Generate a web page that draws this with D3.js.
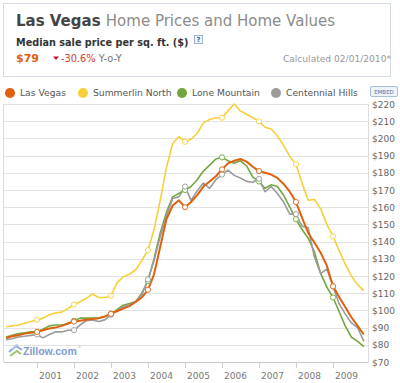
<!DOCTYPE html>
<meta charset="utf-8">
<html>
<head><title>Las Vegas Home Prices and Home Values</title></head>
<style>
body { margin: 0; background: #fff; }
svg text { font-family: "DejaVu Sans", sans-serif; }
</style>
<body>
<svg id="chart" width="400" height="383"></svg>
<script src="https://d3js.org/d3.v7.min.js"></script>
<script>

// tick labels
var yearLabels = ["2001", "2002", "2003", "2004", "2005", "2006", "2007", "2008", "2009"];
var priceTicks = [70, 80, 90, 100, 110, 120, 130, 140, 150, 160, 170, 180, 190, 200, 210, 220];

// one sample every two months, Feb 2000 .. Dec 2009
var months = d3.timeMonth.every(2).range(new Date(2000, 1, 1), new Date(2010, 0, 1));

var seriesNames = ["Las Vegas", "Summerlin North", "Lone Mountain", "Centennial Hills"];
var seriesColors = ["#e0600f", "#f6cf3a", "#73a640", "#9b9b9b"];

// median sale price per sq. ft. ($)
var lasVegas = [84, 85, 85.5, 86.5, 87, 87.5, 88.5, 89.5, 90, 91,
  92.5, 93.5, 94, 94.5, 95, 95.5, 96.5, 98, 99.5, 101,
  102.5, 105, 107.5, 112, 121, 137, 153, 161, 164, 160,
  163, 167, 172, 175, 178, 182, 185.5, 187, 188, 186.5,
  183.5, 181, 180, 179, 177, 173.5, 169, 163, 154, 145,
  139.5, 133.5, 126, 114, 108, 102, 96, 91, 86, 81.5];

var summerlin = [90.5, 91, 91.5, 92.5, 93.5, 94.5, 95.5, 97.5, 98.5, 99,
  101, 103.5, 105, 107, 109.5, 107.5, 107.5, 108.5, 116, 119.5,
  121, 123.5, 129, 135, 147, 164, 183, 197, 201, 198,
  199.5, 203, 209, 211, 212, 212, 216, 220, 216, 214,
  212, 210, 206.5, 205.5, 201.5, 196, 189.5, 185, 174, 164,
  164.5, 159, 150, 143, 135, 127, 120, 115, 111.5, 109];

var loneMountain = [84.5, 85.5, 86.5, 87, 87.5, 87.5, 89, 91, 91.5, 91.5,
  92, 94, 95.5, 95.5, 95.5, 95.5, 96.5, 98, 100.5, 103,
  104, 105, 110, 117, 130, 145, 157, 166, 168, 170,
  172, 176, 181, 184.5, 188, 189, 187, 185.5, 187, 184,
  177.5, 175, 171, 173, 172, 167, 160, 153, 147, 142,
  134, 121.5, 113.5, 107.5, 99.5, 91, 84.5, 82, 79, 80];

var centennial = [83, 83.5, 84.5, 85, 85.5, 86, 84, 86, 87.5, 87.5,
  88.5, 88.5, 91.5, 94, 94.5, 93.5, 94.5, 97.5, 100, 102,
  103.5, 105, 109, 118, 129, 143, 155, 165, 166, 172,
  164, 169.5, 174, 171, 176, 179, 181.5, 178.5, 177, 175,
  174.5, 176.5, 169, 172, 168, 163, 156, 156, 149, 148,
  131, 121.5, 124, 114, 104, 98, 92.7, 90, 82, 78];

var allSeries = [lasVegas, summerlin, loneMountain, centennial];
// drawing order: yellow, green, gray, orange on top
var drawOrder = [1, 2, 3, 0];

var svg = d3.select("#chart");

// ---------- header box ----------
svg.append("rect")
  .attr("x", 3.5).attr("y", 3.5).attr("width", 387).attr("height", 73)
  .attr("fill", "#fff").attr("stroke", "#d3dbe7");

var title = svg.append("text").attr("x", 16).attr("y", 26).style("font-size", "15px");
title.append("tspan").attr("fill", "#444").style("font-weight", "bold").text("Las Vegas ");
title.append("tspan").attr("fill", "#8c8c8c").text("Home Prices and Home Values");

svg.append("text").attr("x", 16).attr("y", 46)
  .style("font-size", "9.7px").style("font-weight", "bold").attr("fill", "#333")
  .text("Median sale price per sq. ft. ($)");

// help icon
svg.append("rect").attr("x", 194.5).attr("y", 35.5).attr("width", 8).attr("height", 8)
  .attr("fill", "#f3f6fb").attr("stroke", "#9fb3cf");
svg.append("text").attr("x", 198.5).attr("y", 42).attr("text-anchor", "middle")
  .style("font-size", "7px").style("font-weight", "bold").attr("fill", "#3a63a8").text("?");

svg.append("text").attr("x", 16).attr("y", 62)
  .style("font-size", "11px").style("font-weight", "bold").attr("fill", "#e0600f").text("$79");

svg.append("path").attr("d", "M53,56.5 L59,56.5 L56,60 Z").attr("fill", "#c8102e");
var yoy = svg.append("text").attr("x", 61).attr("y", 62).style("font-size", "9.8px");
yoy.append("tspan").attr("fill", "#d23a3a").text("-30.6% ");
yoy.append("tspan").attr("fill", "#777").text("Y-o-Y");

svg.append("text").attr("x", 391).attr("y", 62).attr("text-anchor", "end")
  .style("font-size", "9.1px").attr("fill", "#999").text("Calculated 02/01/2010*");

// ---------- legend ----------
var legendX = [10, 83, 182, 276];
var legend = svg.selectAll("g.legendEntry")
  .data(seriesNames)
  .enter()
  .append("g").attr("class", "legendEntry")
  .attr("transform", function(d, i) { return "translate(" + legendX[i] + ",93)"; });
legend.append("circle").attr("r", 5)
  .attr("fill", function(d, i) { return seriesColors[i]; });
legend.append("text").attr("x", 10).attr("y", 3.3)
  .style("font-size", "9.2px").attr("fill", "#555")
  .text(function(d) { return d; });

// embed button
svg.append("rect").attr("x", 370.5).attr("y", 86.5).attr("width", 27).attr("height", 10)
  .attr("rx", 1.5).attr("fill", "#eef3fa").attr("stroke", "#a9bfdc");
svg.append("text").attr("x", 384).attr("y", 93.8).attr("text-anchor", "middle")
  .style("font-size", "5.5px").attr("fill", "#4d6fa6").text("EMBED");

// ---------- scales ----------
var plotL = 3, plotR = 368, plotT = 104, plotB = 362;
var x = d3.scaleTime()
  .domain([new Date(2000, 0, 1), new Date(2010, 0, 1)])
  .range([0, 370]);
var y = d3.scaleLinear().domain([70, 220]).range([plotB, plotT]);

// gridlines
svg.append("g").selectAll("line")
  .data(priceTicks)
  .enter().append("line")
  .attr("x1", plotL).attr("x2", plotR)
  .attr("y1", function(d) { return Math.round(y(d)) + 0.5; })
  .attr("y2", function(d) { return Math.round(y(d)) + 0.5; })
  .attr("stroke", function(d) { return d == 70 ? "#c8c8c8" : "#e2e2e2"; });

// plot frame sides
svg.append("line").attr("x1", plotL + 0.5).attr("x2", plotL + 0.5).attr("y1", plotT).attr("y2", plotB + 1)
  .attr("stroke", "#dcdcdc");
svg.append("line").attr("x1", plotR + 0.5).attr("x2", plotR + 0.5).attr("y1", plotT).attr("y2", plotB + 1)
  .attr("stroke", "#dcdcdc");

// y labels
svg.append("g").selectAll("text")
  .data(priceTicks)
  .enter().append("text")
  .attr("x", 372).attr("y", function(d) { return y(d) + 3.5; })
  .style("font-size", "9px").attr("fill", "#666")
  .text(function(d) { return "$" + d; });

// x ticks and labels
var yearTicks = yearLabels.map(function(s) { return new Date(+s, 0, 1); });
svg.append("g").selectAll("line")
  .data(yearTicks)
  .enter().append("line")
  .attr("x1", function(d) { return Math.round(x(d)) + 0.5; })
  .attr("x2", function(d) { return Math.round(x(d)) + 0.5; })
  .attr("y1", plotB).attr("y2", plotB + 6)
  .attr("stroke", "#cfcfcf");
svg.append("g").selectAll("text")
  .data(yearLabels)
  .enter().append("text")
  .attr("x", function(d) { return x(new Date(+d, 0, 1)) + 2; })
  .attr("y", 379)
  .style("font-size", "9px").attr("fill", "#777")
  .text(function(d) { return d; });

// zillow logo
var logo = svg.append("g").attr("transform", "translate(8,343)");
logo.append("path").attr("d", "M1,9 L8,3 L14,7").attr("fill", "none")
  .attr("stroke", "#8aa9dc").attr("stroke-width", 2);
logo.append("path").attr("d", "M2,13 L9,8 L13,11").attr("fill", "none")
  .attr("stroke", "#9fc46b").attr("stroke-width", 2);
logo.append("path").attr("d", "M4,6 L10,1").attr("fill", "none")
  .attr("stroke", "#b9cbe8").attr("stroke-width", 1.5);
svg.append("text").attr("x", 23).attr("y", 355)
  .style("font-family", "'Liberation Sans', Arial, sans-serif")
  .style("font-size", "10.5px").style("font-weight", "bold")
  .attr("fill", "#7d9bd4").text("Zillow.com");
svg.append("text").attr("x", 78).attr("y", 348)
  .style("font-size", "3px").attr("fill", "#9ab").text("®");

// ---------- lines ----------
svg.append("clipPath").attr("id", "plotClip")
  .append("rect").attr("x", plotL).attr("y", plotT - 3).attr("width", plotR - plotL + 3).attr("height", plotB - plotT + 6);

var line = d3.line()
  .x(function(d, i) { return x(months[i]); })
  .y(function(d) { return y(d); });

var plot = svg.append("g").attr("clip-path", "url(#plotClip)");

drawOrder.forEach(function(k) {
  plot.append("path")
    .datum(allSeries[k])
    .attr("fill", "none")
    .attr("stroke", seriesColors[k])
    .attr("stroke-width", k == 0 ? 2 : 1.6)
    .attr("stroke-linejoin", "round")
    .attr("d", line);
});

// December markers
drawOrder.forEach(function(k) {
  plot.append("g").selectAll("circle")
    .data(allSeries[k].map(function(v, i) { return {v: v, i: i}; })
      .filter(function(d) { return d.i % 6 == 5; }))
    .enter().append("circle")
    .attr("cx", function(d) { return x(months[d.i]); })
    .attr("cy", function(d) { return y(d.v); })
    .attr("r", 2.6)
    .attr("fill", "#fff")
    .attr("stroke", seriesColors[k])
    .attr("stroke-width", 0.9);
});

</script>
</body>
</html>
